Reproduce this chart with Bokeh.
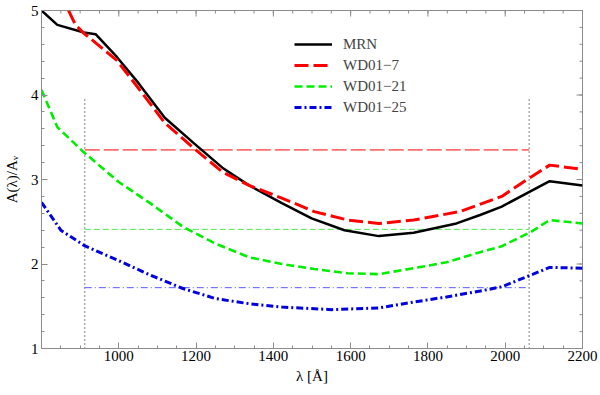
import math
from bokeh.plotting import figure
from bokeh.models import FixedTicker, Legend, LegendItem
from bokeh.embed import file_html
from bokeh.resources import INLINE

# ---- data ----
mrn_wl = [800, 841, 910, 940, 995, 1051, 1119, 1194, 1268, 1337, 1422, 1499,
          1584, 1673, 1763, 1874, 1935, 1991, 2115, 2200]
mrn_a = [5.00, 4.83, 4.74, 4.72, 4.45, 4.14, 3.73, 3.43, 3.14, 2.93, 2.72, 2.54,
         2.40, 2.33, 2.37, 2.48, 2.58, 2.68, 2.98, 2.93]

wd7_wl = [870, 888, 910, 995, 1051, 1119, 1194, 1268, 1337, 1422, 1506, 1593,
          1673, 1763, 1882, 1991, 2067, 2115, 2200]
wd7_a = [5.00, 4.83, 4.73, 4.41, 4.08, 3.67, 3.37, 3.09, 2.93, 2.78, 2.62, 2.52,
         2.48, 2.52, 2.62, 2.80, 3.03, 3.17, 3.12]

wd21_wl = [800, 841, 910, 1000, 1081, 1166, 1251, 1337, 1422, 1506, 1593, 1673,
           1763, 1848, 1935, 1991, 2067, 2115, 2200]
wd21_a = [4.06, 3.62, 3.32, 2.97, 2.72, 2.44, 2.24, 2.08, 2.00, 1.94, 1.89, 1.88,
          1.95, 2.02, 2.14, 2.21, 2.38, 2.52, 2.48]

wd25_wl = [800, 850, 910, 1000, 1081, 1166, 1251, 1337, 1422, 1550, 1673, 1763,
           1848, 1935, 1991, 2067, 2115, 2200]
wd25_a = [2.73, 2.40, 2.22, 2.04, 1.87, 1.71, 1.59, 1.53, 1.49, 1.46, 1.48, 1.55,
          1.61, 1.68, 1.73, 1.87, 1.96, 1.95]

band_edges = [912, 2062]      # wavelength limits of the averaging band
band_top = 3.96               # top of the vertical dotted markers
band_mean_wd7 = 3.35
band_mean_wd21 = 2.41
band_mean_wd25 = 1.72

x_ticks = [1000, 1200, 1400, 1600, 1800, 2000, 2200]
x_minor = list(range(800, 2201, 50))
y_ticks = [1, 2, 3, 4, 5]
y_minor = [round(1 + 0.2 * i, 1) for i in range(21)]
x_lo, x_hi = 800, 2200
y_lo, y_hi = 1, 5

# ---- figure ----
FONT = "'Liberation Serif', 'Times New Roman', serif"
FRAME = "#8c8c8c"

p = figure(width=600, height=395, x_range=(x_lo, x_hi), y_range=(y_lo, y_hi),
           output_backend="svg", toolbar_location=None,
           min_border_left=37, min_border_right=18, min_border_top=10, min_border_bottom=47)
p.xgrid.visible = False
p.ygrid.visible = False
p.outline_line_color = FRAME
p.background_fill_color = "white"
p.border_fill_color = "white"

xt = FixedTicker(ticks=x_ticks, minor_ticks=x_minor)
yt = FixedTicker(ticks=y_ticks, minor_ticks=y_minor)

for ax in (p.xaxis[0], p.yaxis[0]):
    ax.axis_line_color = FRAME
    ax.major_tick_line_color = FRAME
    ax.minor_tick_line_color = FRAME
    ax.major_tick_in = 6
    ax.major_tick_out = 0
    ax.minor_tick_in = 3
    ax.minor_tick_out = 0
    ax.major_label_text_color = "black"
    ax.major_label_text_font = FONT
    ax.axis_label_text_font = FONT
    ax.axis_label_text_font_style = "normal"
    ax.axis_label_text_color = "black"
    ax.major_label_text_font_size = "15px"
    ax.axis_label_text_font_size = "15px"

p.xaxis.ticker = xt
p.yaxis.ticker = yt
p.xaxis.axis_label = "λ [Å]"
p.yaxis.axis_label = "A(λ)/Aᵥ"
p.yaxis.major_label_standoff = 3
p.yaxis.axis_label_standoff = 8
p.xaxis.major_label_standoff = 2
p.xaxis.axis_label_standoff = 4

# inward ticks on the top and right frame edges (markers clipped by the frame)
p.scatter(x_ticks, [y_hi] * len(x_ticks), marker="dash", angle=math.pi / 2, size=12,
          line_color=FRAME, line_width=1)
p.scatter(x_minor, [y_hi] * len(x_minor), marker="dash", angle=math.pi / 2, size=6,
          line_color=FRAME, line_width=1)
p.scatter([x_hi] * len(y_ticks), y_ticks, marker="dash", size=12,
          line_color=FRAME, line_width=1)
p.scatter([x_hi] * len(y_minor), y_minor, marker="dash", size=6,
          line_color=FRAME, line_width=1)

# ---- band markers ----
for xe in band_edges:
    p.line([xe, xe], [y_lo, band_top], line_color="#333333", line_width=1.2, line_dash="1 3")
p.line(band_edges, [band_mean_wd7, band_mean_wd7], line_color="#ff0000", line_width=1,
       line_alpha=1.0, line_dash="15 4")
p.line(band_edges, [band_mean_wd21, band_mean_wd21], line_color="#00dd00", line_width=1,
       line_alpha=0.7, line_dash="6 3")
p.line(band_edges, [band_mean_wd25, band_mean_wd25], line_color="#3333ff", line_width=1,
       line_alpha=0.8, line_dash="7 3 1 3")

# ---- curves ----
r_mrn = p.line(mrn_wl, mrn_a, line_color="black", line_width=2.5)
r_wd7 = p.line(wd7_wl, wd7_a, line_color="#ff0000", line_width=3, line_dash="14 5")
r_wd21 = p.line(wd21_wl, wd21_a, line_color="#00ee00", line_width=2.6, line_dash="8 4")
r_wd25 = p.line(wd25_wl, wd25_a, line_color="#0000dd", line_width=3, line_dash="7 3 2 3")

legend = Legend(items=[
    LegendItem(label="MRN", renderers=[r_mrn]),
    LegendItem(label="WD01−7", renderers=[r_wd7]),
    LegendItem(label="WD01−21", renderers=[r_wd21]),
    LegendItem(label="WD01−25", renderers=[r_wd25]),
], location=(253, 231))
legend.border_line_color = None
legend.background_fill_alpha = 0
legend.padding = 0
legend.margin = 0
legend.spacing = 1
legend.label_height = 20
legend.glyph_height = 20
legend.glyph_width = 38
legend.label_standoff = 11
legend.label_text_font = FONT
legend.label_text_font_size = "15px"
p.add_layout(legend)

open("out.html", "w").write(file_html(p, INLINE))
